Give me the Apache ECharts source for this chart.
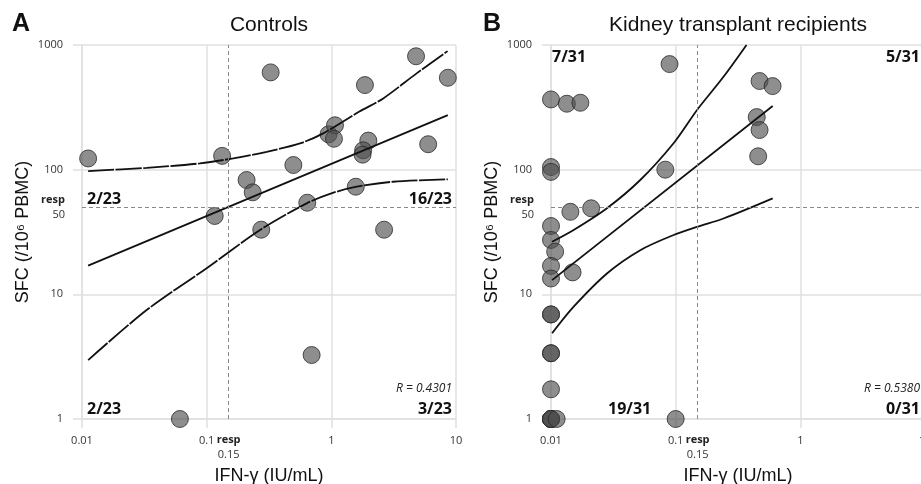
<!DOCTYPE html>
<html><head><meta charset="utf-8">
<script src="https://cdn.jsdelivr.net/npm/echarts@6/dist/echarts.min.js"></script>
<style>html,body{margin:0;padding:0;background:#fff}#c{width:921px;height:484px}</style>
</head><body><div id="c"></div>
<script>
// ---------- data ----------
const xTickLabels = ['0.01', '0.1', '1', '10'];
const yTickLabels = ['1', '10', '100', '1000'];
const respIFN = 0.15;
const respSFC = 50;

// Controls (A)
const ctrlIFN = [0.0112, 0.133, 0.326, 0.496, 0.209, 0.234, 0.116, 0.641, 0.274, 0.95, 1.07, 1.05, 1.86, 1.98, 1.80, 1.78, 1.57, 4.78, 8.6, 5.98, 2.65, 0.695, 0.061];
const ctrlSFC = [123, 129, 603, 109, 82.6, 65.8, 42.5, 54.3, 33, 192, 227, 177, 477, 171, 143, 132, 73, 812, 546, 160, 33, 3.26, 1];
const ctrlFitX = [0.0112, 8.6];
const ctrlFitY = [17, 274];
const ctrlUpX = [0.0112, 0.033, 0.0884, 0.1634, 0.303, 0.56, 0.861, 1.665, 2.608, 4.83, 8.56];
const ctrlUpY = [97.5, 103.5, 112.3, 123.2, 139.2, 162.5, 195.5, 291, 373, 592, 893];
const ctrlLoX = [0.0112, 0.033, 0.1, 0.268, 0.634, 1.0, 1.6, 3.13, 8.6];
const ctrlLoY = [2.97, 7.48, 16.2, 32.8, 53.7, 64.6, 73, 80, 83.6];

// Kidney transplant recipients (B)
const ktrIFN = [0.01, 0.0134, 0.0172, 0.0893, 0.471, 0.599, 0.447, 0.471, 0.459, 0.0826, 0.01, 0.01, 0.0143, 0.021, 0.01, 0.01, 0.0108, 0.01, 0.01, 0.0149, 0.01, 0.01, 0.01, 0.01, 0.01, 0.01, 0.01, 0.01, 0.01, 0.0111, 0.1];
const ktrSFC = [366, 338, 344, 703, 514, 468, 264, 208, 128, 100, 105, 96, 45.9, 49, 35.3, 27.3, 22, 16.9, 13.4, 15, 6.9, 6.9, 3.37, 3.37, 1.73, 1, 1, 1, 1, 1, 1];
const ktrFitX = [0.0102, 0.6];
const ktrFitY = [13, 324];
const ktrUpX = [0.0102, 0.0152, 0.0281, 0.052, 0.0962, 0.148, 0.242, 0.37];
const ktrUpY = [26.4, 32.8, 49, 82.6, 163, 300, 556, 1000];
const ktrLoX = [0.0102, 0.0152, 0.0281, 0.052, 0.0962, 0.148, 0.242, 0.6];
const ktrLoY = [4.87, 7.96, 14.7, 22.6, 29.9, 34.8, 40.6, 58.9];

// ---------- helpers ----------
const zip = (a, b) => a.map((v, i) => [v, b[i]]);
const grey = '#e0e0e0';
const labelFont = 'Open Sans';
const nameFont = 'Liberation Sans';

function xAxis(gi) {
  return {
    type: 'log', logBase: 10, min: 0.01, max: 10, gridIndex: gi,
    axisLine: { show: true, lineStyle: { color: grey, width: 1.5 } },
    axisTick: { show: true, length: 9, lineStyle: { color: grey, width: 1.5 } },
    splitLine: { show: true, lineStyle: { color: grey, width: 1.5 } },
    minorTick: { show: false }, minorSplitLine: { show: false },
    axisLabel: {
      margin: 16, fontSize: 11, color: '#333', fontFamily: labelFont,
      formatter: v => xTickLabels[Math.round(Math.log10(v)) + 2]
    },
    name: 'IFN-γ (IU/mL)', nameLocation: 'middle', nameGap: 48,
    nameTextStyle: { fontSize: 18, fontFamily: nameFont, color: '#111' }
  };
}
function yAxis(gi) {
  return {
    type: 'log', logBase: 10, min: 1, max: 1000, gridIndex: gi,
    axisLine: { show: true, lineStyle: { color: grey, width: 1.5 } },
    axisTick: { show: true, length: 9, lineStyle: { color: grey, width: 1.5 } },
    splitLine: { show: true, lineStyle: { color: grey, width: 1.5 } },
    minorTick: { show: false }, minorSplitLine: { show: false },
    axisLabel: {
      margin: 19, fontSize: 11, color: '#333', fontFamily: labelFont,
      formatter: v => yTickLabels[Math.round(Math.log10(v))]
    },
    name: 'SFC (/10⁶ PBMC)', nameLocation: 'middle', nameGap: 50,
    nameTextStyle: { fontSize: 18, fontFamily: nameFont, color: '#111' }
  };
}
const rich = {
  b: { fontWeight: 'bold', fontSize: 11, fontFamily: labelFont, color: '#222', lineHeight: 15 },
  n: { fontSize: 11, fontFamily: labelFont, color: '#333', lineHeight: 15 }
};
function thresholds() {
  return {
    symbol: ['none', 'none'], silent: true, animation: false,
    lineStyle: { type: [4, 3], color: '#888', width: 1 },
    data: [
      { xAxis: respIFN, label: { position: 'start', distance: 13, formatter: '{b|resp}\n{n|0.15}', rich: rich, align: 'center' } },
      { yAxis: respSFC, label: { position: 'start', distance: 17, formatter: '{b|resp}\n{n|50}', rich: rich, align: 'right' } }
    ]
  };
}
function scatter(gi, xs, ys) {
  return {
    type: 'scatter', xAxisIndex: gi, yAxisIndex: gi, data: zip(xs, ys),
    symbolSize: 17, z: 2,
    itemStyle: { color: 'rgba(78,78,78,0.8)', borderColor: '#2a2a2a', borderWidth: 1 },
    markLine: thresholds()
  };
}
function line(gi, xs, ys, dash, smooth) {
  return {
    type: 'line', xAxisIndex: gi, yAxisIndex: gi, data: zip(xs, ys),
    showSymbol: false, symbol: 'none', smooth: smooth ? 0.3 : false, z: 3, clip: true,
    lineStyle: { color: '#111', width: 1.8, type: dash ? [26, 1.5] : 'solid' }
  };
}
function txt(x, y, text, opts) {
  return {
    type: 'text', x: x, y: y, silent: true,
    style: Object.assign({
      text: text, fill: '#111',
      fontFamily: labelFont, fontSize: 16, fontWeight: 'bold',
      align: 'left', verticalAlign: 'middle', textAlign: 'left', textVerticalAlign: 'middle'
    }, opts || {})
  };
}
const R = { align: 'right', textAlign: 'right' };
const C = { align: 'center', textAlign: 'center' };

const chart = echarts.init(document.getElementById('c'), null, { renderer: 'canvas' });
chart.setOption({
  animation: false,
  backgroundColor: '#fff',
  grid: [
    { left: 82, top: 45, width: 374, height: 374, containLabel: false, outerBoundsMode: 'none' },
    { left: 551, top: 45, width: 374, height: 374, containLabel: false, outerBoundsMode: 'none' }
  ],
  xAxis: [xAxis(0), xAxis(1)],
  yAxis: [yAxis(0), yAxis(1)],
  series: [
    scatter(0, ctrlIFN, ctrlSFC),
    line(0, ctrlFitX, ctrlFitY, false, false),
    line(0, ctrlUpX, ctrlUpY, true, true),
    line(0, ctrlLoX, ctrlLoY, true, true),
    scatter(1, ktrIFN, ktrSFC),
    line(1, ktrFitX, ktrFitY, false, false),
    line(1, ktrUpX, ktrUpY, false, true),
    line(1, ktrLoX, ktrLoY, false, true)
  ],
  graphic: [
    txt(12, 24, 'A', { fontFamily: nameFont, fontSize: 25, fontWeight: 'bold' }),
    txt(269, 25, 'Controls', Object.assign({ fontFamily: nameFont, fontSize: 21, fontWeight: 'normal' }, C)),
    txt(483, 24, 'B', { fontFamily: nameFont, fontSize: 25, fontWeight: 'bold' }),
    txt(738, 25, 'Kidney transplant recipients', Object.assign({ fontFamily: nameFont, fontSize: 21, fontWeight: 'normal' }, C)),
    txt(87, 199, '2/23'),
    txt(452, 199, '16/23', R),
    txt(87, 409, '2/23'),
    txt(452, 409, '3/23', R),
    txt(452, 389, 'R = 0.4301', Object.assign({ fontSize: 12, fontWeight: 'normal', fontStyle: 'italic', fill: '#222' }, R)),
    txt(552, 57, '7/31'),
    txt(920, 57, '5/31', R),
    txt(608, 409, '19/31'),
    txt(920, 409, '0/31', R),
    txt(920, 389, 'R = 0.5380', Object.assign({ fontSize: 12, fontWeight: 'normal', fontStyle: 'italic', fill: '#222' }, R))
  ]
});
</script>
</body></html>
